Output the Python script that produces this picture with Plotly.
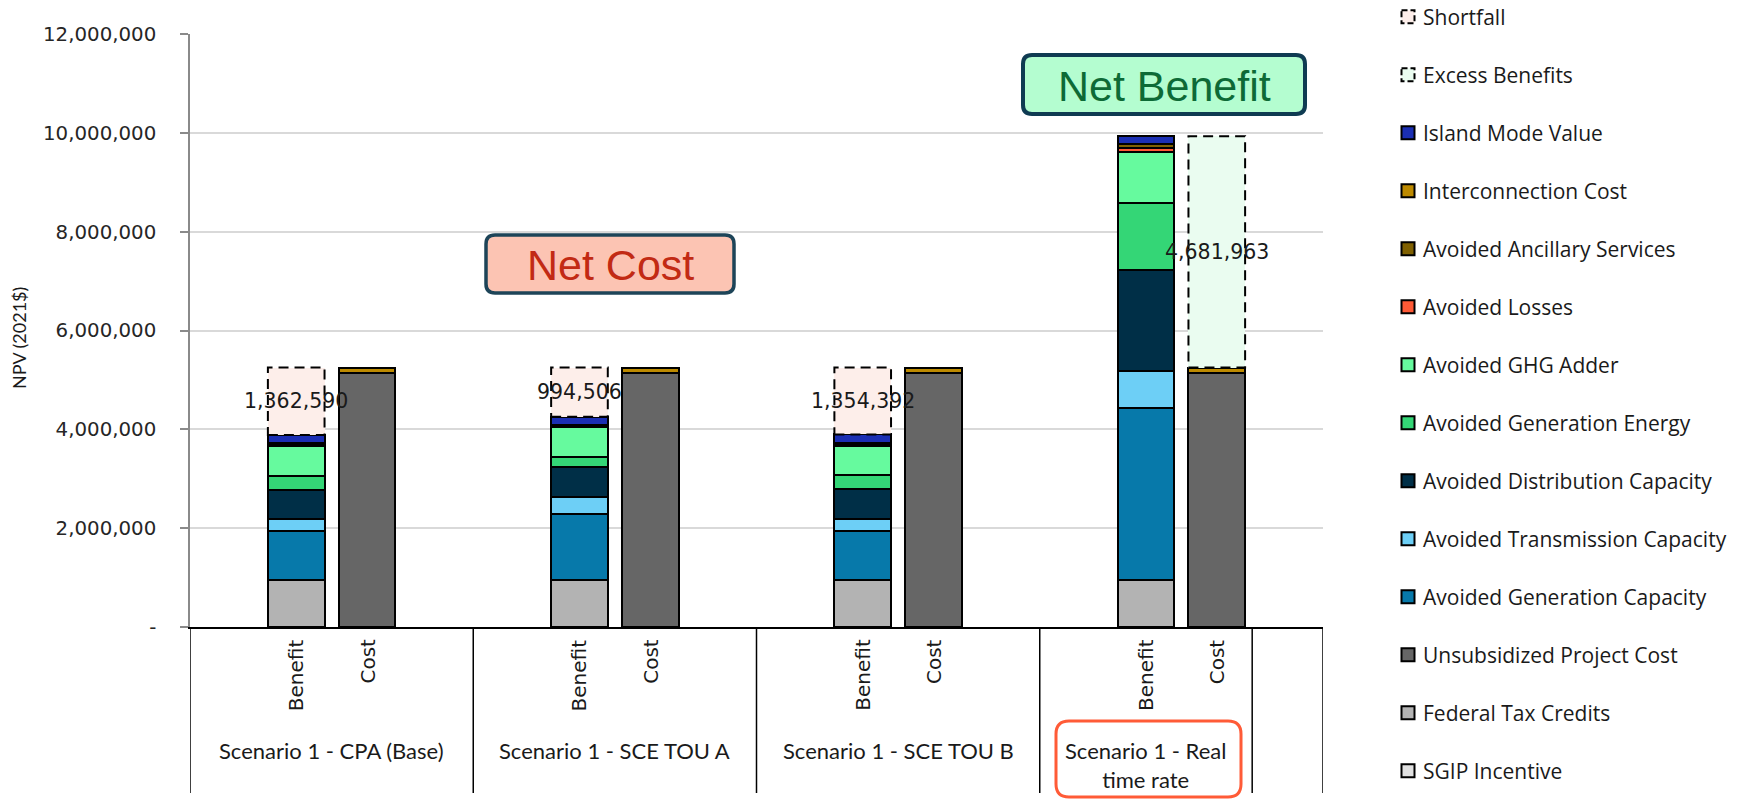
import plotly.graph_objects as go

# ---- categories -------------------------------------------------------------
groups = ["Scenario 1 - CPA (Base)", "Scenario 1 - SCE TOU A",
          "Scenario 1 - SCE TOU B", "Scenario 1 - Real<br>time rate"]
bar_labels = ["Benefit", "Cost"]

# ---- benefit stack (bottom to top), NPV in 2021$ ----------------------------
sgip_incentive = [0, 0, 0, 0]
federal_tax_credits = [955000, 955000, 955000, 955000]
avoided_gen_capacity = [980000, 1333000, 980000, 3470000]
avoided_trans_capacity = [251000, 350000, 257000, 764000]
avoided_dist_capacity = [588000, 594000, 602000, 2026000]
avoided_gen_energy = [284000, 217000, 290000, 1364000]
avoided_ghg_adder = [608000, 594000, 588000, 1040000]
avoided_losses = [15000, 15000, 15000, 80000]
avoided_ancillary = [35000, 35000, 35000, 70000]
island_mode_value = [171410, 162494, 173608, 162963]
shortfall = [1362590, 994506, 1354392, 0]

# ---- cost stack (bottom to top) ---------------------------------------------
unsubsidized_cost = [5135000, 5135000, 5135000, 5135000]
interconnection_cost = [115000, 115000, 115000, 115000]
excess_benefits = [0, 0, 0, 4681963]

# ---- y axis ticks -----------------------------------------------------------
y_ticks = [0, 2000000, 4000000, 6000000, 8000000, 10000000, 12000000]
y_tick_text = ["-"] + [f"{v:,}" for v in y_ticks[1:]]

# ---- styling ----------------------------------------------------------------
C = {
    "Shortfall": "#fdeeea",
    "Excess Benefits": "#eafcf0",
    "Island Mode Value": "#1b2fb3",
    "Interconnection Cost": "#bd8a00",
    "Avoided Ancillary Services": "#7f6000",
    "Avoided Losses": "#ff5a36",
    "Avoided GHG Adder": "#66fa9e",
    "Avoided Generation Energy": "#34d676",
    "Avoided Distribution Capacity": "#002f47",
    "Avoided Transmission Capacity": "#6dcff6",
    "Avoided Generation Capacity": "#0779aa",
    "Unsubsidized Project Cost": "#666666",
    "Federal Tax Credits": "#b3b3b3",
    "SGIP Incentive": "#e0e0e0",
}
DASH = "10px,6px"

# slot layout: each scenario is [gap, Benefit, Cost, gap]; last one has no trailing gap
benefit_x = [4 * i + 1 for i in range(len(groups))]
cost_x = [4 * i + 2 for i in range(len(groups))]
dividers = [-0.5, 3.5, 7.5, 11.5, 14.5, 15.5]
BAR_W = 0.8

# figure geometry (pixels)
FIG_W, FIG_H = 1752, 799
L, R, T, B = 190, 429, 34, 172
PW, PH = FIG_W - L - R, FIG_H - T - B


def px(x):
    return (x - L) / PW


def py(y):
    return (FIG_H - B - y) / PH


benefit_stack = [
    ("SGIP Incentive", sgip_incentive),
    ("Federal Tax Credits", federal_tax_credits),
    ("Avoided Generation Capacity", avoided_gen_capacity),
    ("Avoided Transmission Capacity", avoided_trans_capacity),
    ("Avoided Distribution Capacity", avoided_dist_capacity),
    ("Avoided Generation Energy", avoided_gen_energy),
    ("Avoided GHG Adder", avoided_ghg_adder),
    ("Avoided Losses", avoided_losses),
    ("Avoided Ancillary Services", avoided_ancillary),
    ("Island Mode Value", island_mode_value),
]
cost_stack = [
    ("Unsubsidized Project Cost", unsubsidized_cost),
    ("Interconnection Cost", interconnection_cost),
]

fig = go.Figure()

for name, vals in benefit_stack:
    fig.add_trace(go.Bar(x=benefit_x, y=vals, name=name, width=BAR_W,
                         marker=dict(color=C[name], line=dict(color="#000000", width=2)),
                         showlegend=False, hoverinfo="name+y"))
for name, vals in cost_stack:
    fig.add_trace(go.Bar(x=cost_x, y=vals, name=name, width=BAR_W,
                         marker=dict(color=C[name], line=dict(color="#000000", width=2)),
                         showlegend=False, hoverinfo="name+y"))

fig.add_trace(go.Bar(x=benefit_x, y=shortfall, name="Shortfall", width=BAR_W,
                     marker=dict(color=C["Shortfall"], line=dict(width=0)),
                     showlegend=False, hoverinfo="name+y"))
fig.add_trace(go.Bar(x=cost_x, y=excess_benefits, name="Excess Benefits", width=BAR_W,
                     marker=dict(color=C["Excess Benefits"], line=dict(width=0)),
                     showlegend=False, hoverinfo="name+y"))

benefit_total = [sum(v[i] for _, v in benefit_stack) for i in range(len(groups))]
cost_total = [sum(v[i] for _, v in cost_stack) for i in range(len(groups))]

shapes = []
annotations = []

# dashed outlines and value labels for the gap segments
for i in range(len(groups)):
    for xs, base, val in ((benefit_x, benefit_total, shortfall),
                          (cost_x, cost_total, excess_benefits)):
        if val[i] > 0:
            shapes.append(dict(type="rect", xref="x", yref="y",
                               x0=xs[i] - BAR_W / 2, x1=xs[i] + BAR_W / 2,
                               y0=base[i], y1=base[i] + val[i],
                               line=dict(color="#000000", width=2, dash=DASH),
                               layer="above"))
            annotations.append(dict(x=xs[i], y=base[i] + val[i] / 2, xref="x", yref="y",
                                    text=f"{val[i]:,}", showarrow=False,
                                    xanchor="center", yanchor="middle",
                                    font=dict(family="DejaVu Sans", size=20.5, color="#1a1a1a")))

# category dividers below the axis
for d in dividers:
    shapes.append(dict(type="line", xref="x", yref="paper", x0=d, x1=d,
                       y0=0, y1=py(793), line=dict(color="#000000", width=1.5)))

# bar labels (rotated) and scenario labels
for i in range(len(groups)):
    for xs, lab in ((benefit_x, bar_labels[0]), (cost_x, bar_labels[1])):
        annotations.append(dict(x=xs[i], y=py(637), xref="x", yref="paper",
                                text=lab, textangle=-90, showarrow=False,
                                xanchor="center", yanchor="top",
                                font=dict(family="DejaVu Sans", size=20, color="#1a1a1a")))
    lo, hi = dividers[i], dividers[i + 1]
    annotations.append(dict(x=(lo + hi) / 2, y=py(735), xref="x", yref="paper",
                            text=groups[i], showarrow=False, xanchor="center", yanchor="top",
                            font=dict(family="Lato", size=22, color="#1a1a1a")))


def rounded_box(x0, y0, x1, y1, r):
    return (f"M {px(x0 + r)},{py(y0)} L {px(x1 - r)},{py(y0)} "
            f"Q {px(x1)},{py(y0)} {px(x1)},{py(y0 + r)} L {px(x1)},{py(y1 - r)} "
            f"Q {px(x1)},{py(y1)} {px(x1 - r)},{py(y1)} L {px(x0 + r)},{py(y1)} "
            f"Q {px(x0)},{py(y1)} {px(x0)},{py(y1 - r)} L {px(x0)},{py(y0 + r)} "
            f"Q {px(x0)},{py(y0)} {px(x0 + r)},{py(y0)} Z")


# callout boxes
shapes.append(dict(type="path", xref="paper", yref="paper", path=rounded_box(486, 235, 734, 293, 9),
                   fillcolor="#fcc4b3", line=dict(color="#1d4458", width=3.5), layer="above"))
annotations.append(dict(x=px(610), y=py(265), xref="paper", yref="paper", text="Net Cost",
                        showarrow=False, xanchor="center", yanchor="middle",
                        font=dict(family="Liberation Sans", size=43, color="#c22a14")))
shapes.append(dict(type="path", xref="paper", yref="paper", path=rounded_box(1023, 55, 1305, 114, 9),
                   fillcolor="#b4fdd0", line=dict(color="#0f3b52", width=4), layer="above"))
annotations.append(dict(x=px(1164), y=py(85.5), xref="paper", yref="paper", text="Net Benefit",
                        showarrow=False, xanchor="center", yanchor="middle",
                        font=dict(family="Liberation Sans", size=43, color="#0d6a36")))
shapes.append(dict(type="path", xref="paper", yref="paper", path=rounded_box(1056, 721, 1241, 797, 13),
                   fillcolor="rgba(0,0,0,0)", line=dict(color="#ff5b37", width=3), layer="above"))

# y axis title
annotations.append(dict(x=px(19), y=py(338), xref="paper", yref="paper", text="NPV (2021$)",
                        textangle=-90, showarrow=False, xanchor="center", yanchor="middle",
                        font=dict(family="Lato", size=18, color="#1a1a1a")))

# legend (top to bottom)
legend_items = ["Shortfall", "Excess Benefits", "Island Mode Value", "Interconnection Cost",
                "Avoided Ancillary Services", "Avoided Losses", "Avoided GHG Adder",
                "Avoided Generation Energy", "Avoided Distribution Capacity",
                "Avoided Transmission Capacity", "Avoided Generation Capacity",
                "Unsubsidized Project Cost", "Federal Tax Credits", "SGIP Incentive"]
for k, name in enumerate(legend_items):
    yc = 16.8 + 58.0 * k
    dashed = name in ("Shortfall", "Excess Benefits")
    shapes.append(dict(type="rect", xref="paper", yref="paper",
                       x0=px(1401.5), x1=px(1414.5), y0=py(yc - 6.5), y1=py(yc + 6.5),
                       fillcolor=C[name],
                       line=dict(color="#000000", width=2, dash="6px,3px" if dashed else "solid")))
    annotations.append(dict(x=px(1421), y=py(yc), xref="paper", yref="paper", text=name,
                            showarrow=False, xanchor="left", yanchor="middle",
                            font=dict(family="Open Sans", size=21, color="#1a1a1a")))

fig.update_layout(
    width=FIG_W, height=FIG_H,
    margin=dict(l=L, r=R, t=T, b=B, pad=0),
    paper_bgcolor="#ffffff", plot_bgcolor="#ffffff",
    barmode="stack",
    showlegend=False,
    shapes=shapes,
    annotations=annotations,
    xaxis=dict(range=[-0.5, 15.5], showticklabels=False, ticks="", showgrid=False,
               zeroline=False, showline=True, linecolor="#000000", linewidth=2,
               fixedrange=True),
    yaxis=dict(range=[0, 12000000], tickvals=y_ticks, ticktext=y_tick_text,
               showgrid=True, gridcolor="#d9d9d9", gridwidth=1.5, zeroline=False,
               showline=True, linecolor="#8a8a8a", linewidth=1.5,
               ticks="outside", ticklen=8, tickcolor="#8a8a8a", tickwidth=1.5,
               ticklabelstandoff=20,
               tickfont=dict(family="DejaVu Sans", size=19.8, color="#262626"),
               fixedrange=True),
    font=dict(family="Lato", color="#1a1a1a"),
)

fig.write_html("out.html")
